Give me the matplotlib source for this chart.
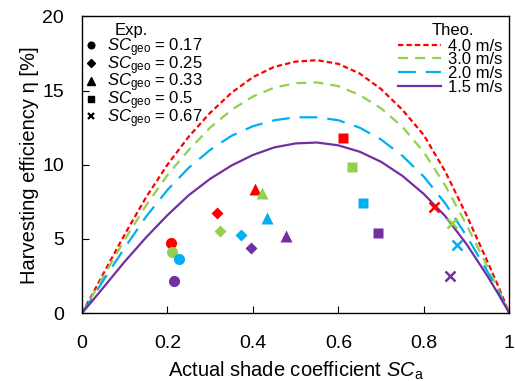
import matplotlib
matplotlib.use("Agg")
import matplotlib.pyplot as plt
from matplotlib.lines import Line2D

plt.rcParams.update({
    "font.family": ["Liberation Sans", "DejaVu Sans"],
    "mathtext.fontset": "custom",
    "mathtext.rm": "Liberation Sans",
    "mathtext.it": "Liberation Sans:italic",
})

RED = "#FF0000"
GREEN = "#92D050"
CYAN = "#00B0F0"
PURPLE = "#7030A0"

# theoretical curves
sc_theo = [0, 0.025, 0.05, 0.1, 0.15, 0.2, 0.25, 0.3, 0.35, 0.4, 0.45, 0.5,
           0.55, 0.6, 0.65, 0.7, 0.75, 0.8, 0.85, 0.9, 0.95, 0.975, 1.0]
eta_40 = [0, 1.3, 2.65, 5.3, 7.8, 10.0, 11.9, 13.5, 14.85, 15.9, 16.6, 16.95,
          17.05, 16.8, 16.15, 15.1, 13.7, 12.0, 9.55, 6.6, 3.4, 1.75, 0]
eta_30 = [0, 1.2, 2.45, 4.95, 7.25, 9.3, 11.0, 12.5, 13.7, 14.6, 15.2, 15.5,
          15.55, 15.3, 14.7, 13.8, 12.55, 10.85, 8.6, 5.95, 3.05, 1.55, 0]
eta_20 = [0, 1.05, 2.2, 4.4, 6.5, 8.3, 9.8, 11.0, 11.95, 12.6, 13.0, 13.2,
          13.2, 13.0, 12.5, 11.7, 10.6, 9.2, 7.4, 5.2, 2.75, 1.4, 0]
eta_15 = [0, 0.85, 1.72, 3.47, 5.1, 6.6, 7.95, 9.05, 9.95, 10.66, 11.17, 11.44,
          11.50, 11.31, 10.88, 10.20, 9.25, 8.03, 6.54, 4.65, 2.45, 1.25, 0]

# experiments, order of points in each: 4.0, 3.0, 2.0, 1.5 m/s
sc_017 = [0.209, 0.210, 0.227, 0.215]
eta_017 = [4.75, 4.15, 3.65, 2.15]
sc_025 = [0.317, 0.324, 0.372, 0.396]
eta_025 = [6.72, 5.57, 5.28, 4.40]
sc_033 = [0.405, 0.422, 0.434, 0.478]
eta_033 = [8.35, 8.08, 6.40, 5.20]
sc_050 = [0.612, 0.632, 0.657, 0.692]
eta_050 = [11.79, 9.84, 7.41, 5.39]
sc_067 = [0.823, 0.866, 0.877, 0.862]
eta_067 = [7.18, 6.06, 4.60, 2.51]

speeds = ["4.0 m/s", "3.0 m/s", "2.0 m/s", "1.5 m/s"]
colors = [RED, GREEN, CYAN, PURPLE]
geo_labels = ["0.17", "0.25", "0.33", "0.5", "0.67"]

fig = plt.figure(figsize=(5.15, 3.81), dpi=100)
ax = fig.add_axes([0.159, 0.178, 0.830, 0.779])

theo = [eta_40, eta_30, eta_20, eta_15]
styles = [(0, (2.4, 1.4)), (0, (4.5, 3.2)), (0, (8.0, 4.5)), "-"]
theo_handles = []
for eta, c, ls, lab in zip(theo, colors, styles, speeds):
    h, = ax.plot(sc_theo, eta, color=c, ls=ls, lw=1.6, label=lab, zorder=2)
    theo_handles.append(h)

exp_sets = [(sc_017, eta_017, "o", 8), (sc_025, eta_025, "D", 6.5),
            (sc_033, eta_033, "^", 8.5), (sc_050, eta_050, "s", 7.5),
            (sc_067, eta_067, "x", 7.5)]
exp_handles = []
for (xs, ys, m, ms), g in zip(exp_sets, geo_labels):
    for x, y, c in zip(xs, ys, colors):
        if m == "x":
            ax.plot(x, y, m, color=c, ms=ms, mew=1.8, zorder=3)
        else:
            ax.plot(x, y, m, color=c, ms=ms, mec="none", zorder=3)
    exp_handles.append(Line2D([], [], ls="none", marker=m, color="black",
                              ms=ms * 0.6, mew=1.6 if m == "x" else 1,
                              label=r"$SC_{\rm geo}$ = " + g))

ax.set_xlim(0, 1)
ax.set_ylim(0, 20)
ax.set_xticks([0, 0.2, 0.4, 0.6, 0.8, 1])
ax.set_xticklabels(["0", "0.2", "0.4", "0.6", "0.8", "1"])
ax.set_yticks([0, 5, 10, 15, 20])
ax.tick_params(direction="in", length=5, labelsize=14)
ax.tick_params(axis="x", pad=16)
ax.tick_params(axis="y", pad=13)
ax.set_xlabel(r"Actual shade coefficient $SC_{\rm a}$", fontsize=14.5, labelpad=5)
ax.set_ylabel("Harvesting efficiency η [%]", fontsize=14.5, labelpad=2)
for s in ax.spines.values():
    s.set_linewidth(1.0)

# legends (titles placed as plain text so rows can sit tight)
leg1 = ax.legend(handles=exp_handles, loc="upper left",
                 bbox_to_anchor=(0.004, 0.933), frameon=False, fontsize=12,
                 handlelength=0.9, handletextpad=0.5, labelspacing=-0.29,
                 borderaxespad=0, borderpad=0)
ax.add_artist(leg1)
ax.text(0.115, 0.953, "Exp.", transform=ax.transAxes, ha="center",
        va="center", fontsize=12)
ax.legend(handles=theo_handles, loc="upper right",
          bbox_to_anchor=(0.985, 0.925), frameon=False, fontsize=12,
          handlelength=2.6, handletextpad=0.45, labelspacing=-0.08,
          borderaxespad=0, borderpad=0)
ax.text(0.869, 0.953, "Theo.", transform=ax.transAxes, ha="center",
        va="center", fontsize=12)

fig.savefig("out.png", dpi=100)
